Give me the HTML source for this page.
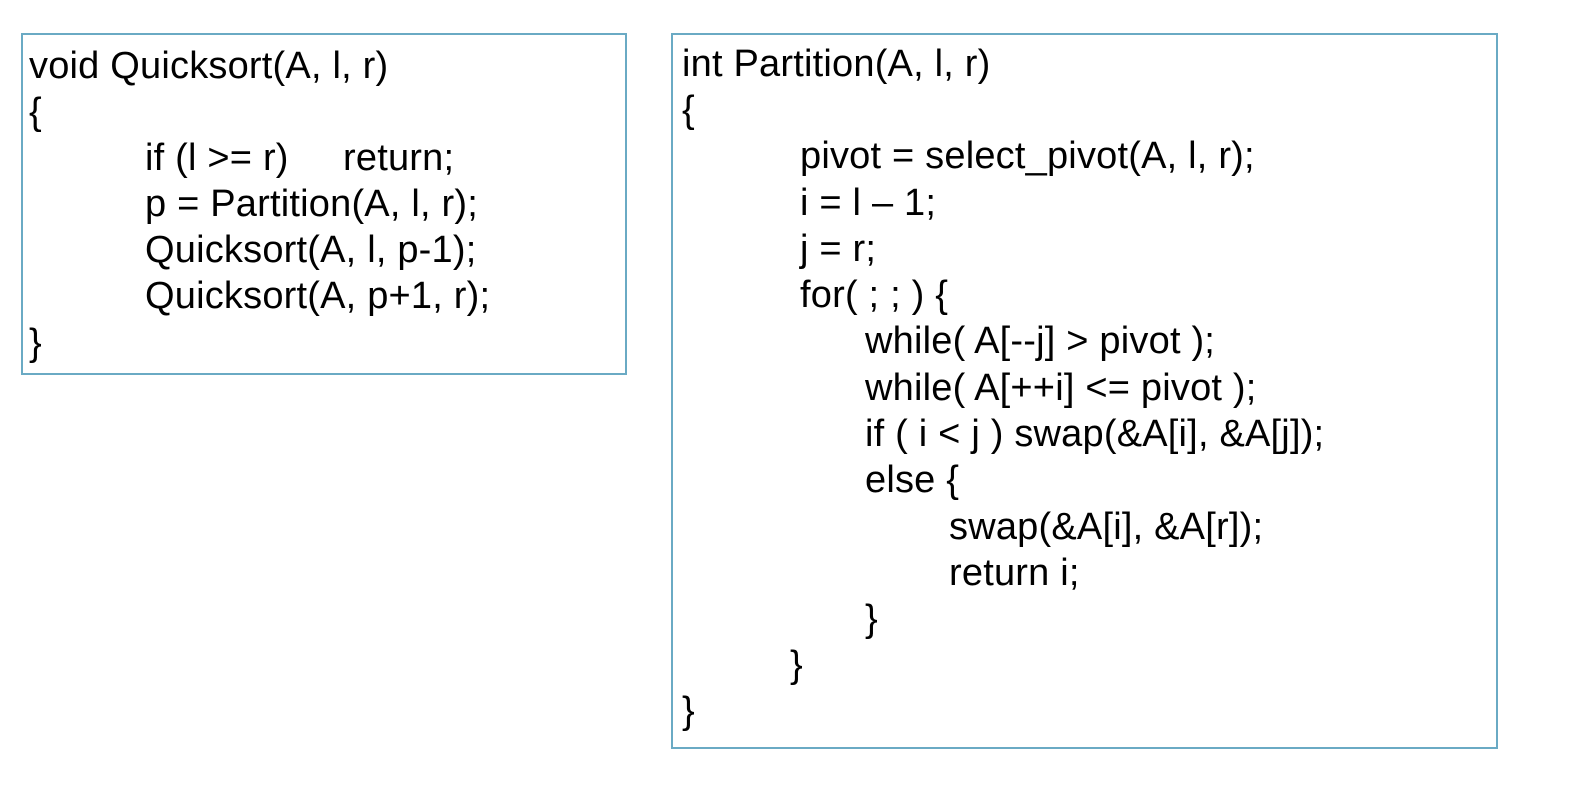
<!DOCTYPE html>
<html><head><style>
body{margin:0;width:1570px;height:806px;background:#fff;position:relative;font-family:"Liberation Sans",Arial,sans-serif;overflow:hidden}
.box{position:absolute;border:2px solid #6aaac4;box-sizing:border-box}
.t{position:absolute;font-size:38px;line-height:38px;letter-spacing:0.2px;white-space:pre;color:#000}
</style></head><body>
<div class="box" style="left:21px;top:33px;width:606px;height:342px"></div>
<div class="box" style="left:671px;top:33px;width:827px;height:716px"></div>

<div class="t" style="left:29px;top:47px">void Quicksort(A, l, r)</div>
<div class="t" style="left:29px;top:93px">{</div>
<div class="t" style="left:145px;top:139px">if (l &gt;= r)</div>
<div class="t" style="left:343px;top:139px">return;</div>
<div class="t" style="left:145px;top:185px">p = Partition(A, l, r);</div>
<div class="t" style="left:145px;top:231px">Quicksort(A, l, p-1);</div>
<div class="t" style="left:145px;top:277px">Quicksort(A, p+1, r);</div>
<div class="t" style="left:29px;top:324px">}</div>

<div class="t" style="left:682px;top:45px">int Partition(A, l, r)</div>
<div class="t" style="left:682px;top:91px">{</div>
<div class="t" style="left:800px;top:137px">pivot = select_pivot(A, l, r);</div>
<div class="t" style="left:800px;top:184px">i = l – 1;</div>
<div class="t" style="left:800px;top:230px">j = r;</div>
<div class="t" style="left:800px;top:276px">for( ; ; ) {</div>
<div class="t" style="left:865px;top:322px">while( A[--j] &gt; pivot );</div>
<div class="t" style="left:865px;top:369px">while( A[++i] &lt;= pivot );</div>
<div class="t" style="left:865px;top:415px">if ( i &lt; j ) swap(&amp;A[i], &amp;A[j]);</div>
<div class="t" style="left:865px;top:461px">else {</div>
<div class="t" style="left:949px;top:508px">swap(&amp;A[i], &amp;A[r]);</div>
<div class="t" style="left:949px;top:554px">return i;</div>
<div class="t" style="left:865px;top:600px">}</div>
<div class="t" style="left:790px;top:646px">}</div>
<div class="t" style="left:682px;top:692px">}</div>
</body></html>
